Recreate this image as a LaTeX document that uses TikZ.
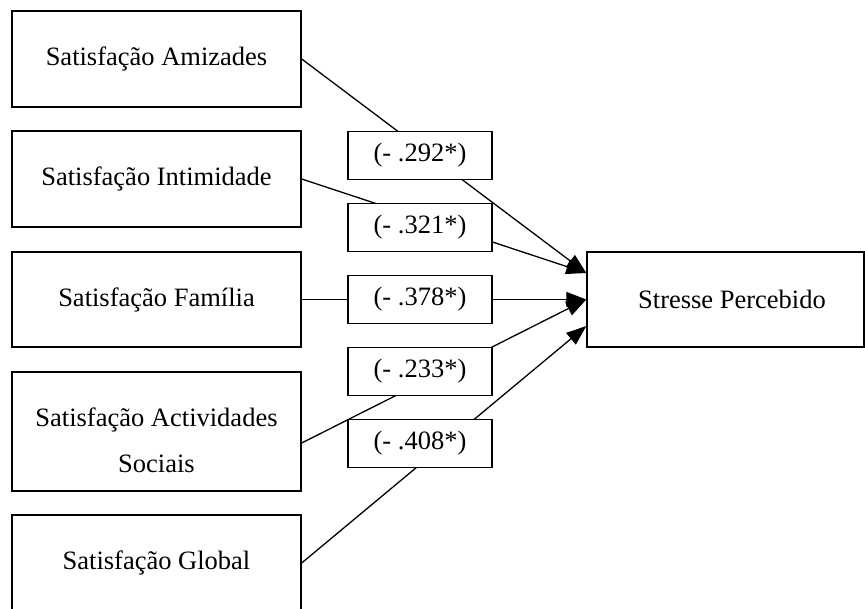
\documentclass[tikz,border=0pt]{standalone}
\usepackage{fontspec}
\setmainfont{Liberation Serif}
\usetikzlibrary{arrows.meta,calc}
\begin{document}
\begin{tikzpicture}[x=1pt,y=-1pt,
  box/.style={draw=black, line width=1.4pt, fill=white, inner sep=0pt,
    font=\fontsize{26.5}{46}\selectfont, align=center},
  bigbox/.style={box, minimum width=289pt, minimum height=96pt},
  coefbox/.style={box, minimum width=144pt, minimum height=48pt},
  txt/.style={inner sep=0pt, font=\fontsize{26.5}{46}\selectfont, align=center},
  conn/.style={line width=1.3pt, -{Triangle[length=20pt,width=15pt]}}]
\clip (0,0) rectangle (865,608);
\fill[white] (0,0) rectangle (865,608);

% predictor boxes
\node[bigbox] (b1) at (156.5,59) {Satisfação Amizades};
\node[bigbox] (b2) at (156.5,179) {Satisfação Intimidade};
\node[bigbox, minimum height=95pt] (b3) at (156.5,299.5) {Satisfação Família};
\node[bigbox, minimum height=119pt] (b4) at (156.5,431.5) {};
\node[txt] (b4t) at (156.5,440) {Satisfação Actividades\\Sociais};
\node[bigbox] (b5) at (156.5,563) {Satisfação Global};

% outcome box
\node[box, minimum width=277pt, minimum height=95pt] (st) at (725.5,299.5) {};
\node[txt] (stt) at (732,299.5) {Stresse Percebido};

% arrow targets and starts
\coordinate (t1) at ($(st.west)+(0,-26.5)$);
\coordinate (t2) at (st.west);
\coordinate (t3) at ($(st.west)+(0,26.5)$);
\coordinate (s4) at ($(b4.east)+(0,11.5)$);

% connectors
\draw[conn] (b1.east) -- (t1);
\draw[conn] (b2.east) -- (t1);
\draw[conn] (b3.east) -- (t2);
\draw[conn] (s4) -- (t2);
\draw[conn] (b5.east) -- (t3);

% coefficient boxes
\node[coefbox] (l1) at (420,155.5) {(- .292*)};
\node[coefbox] (l2) at (420,227.5) {(- .321*)};
\node[coefbox] (l3) at (420,299.5) {(- .378*)};
\node[coefbox] (l4) at (420,371.5) {(- .233*)};
\node[coefbox] (l5) at (420,443.5) {(- .408*)};
\end{tikzpicture}
\end{document}
